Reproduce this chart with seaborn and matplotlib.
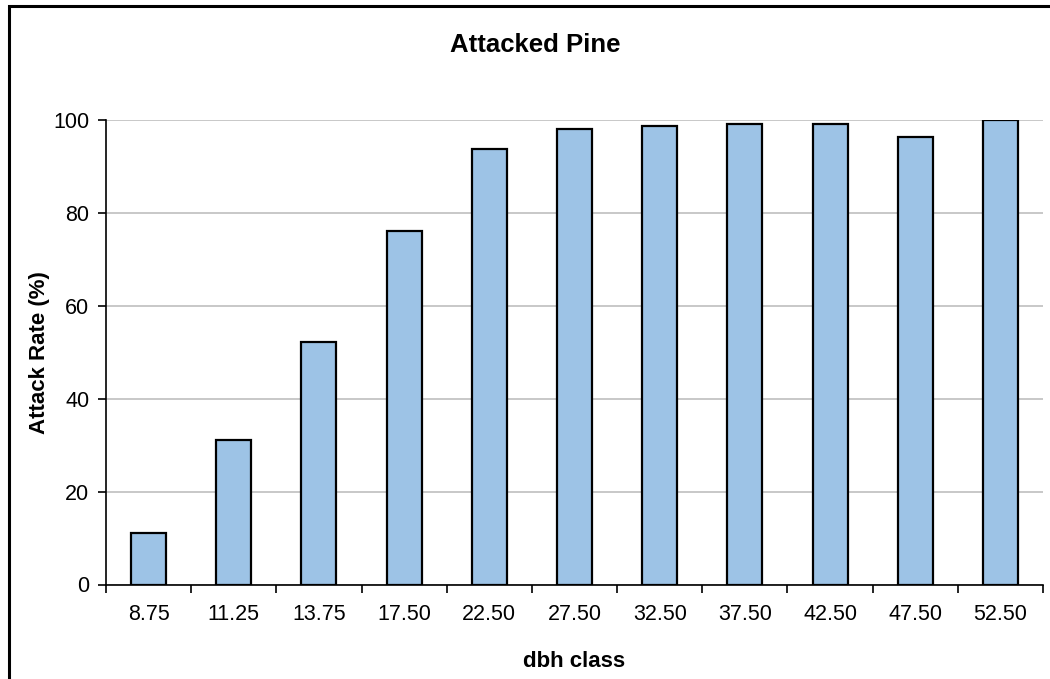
import matplotlib
matplotlib.use("Agg")
import matplotlib.pyplot as plt
import matplotlib.patches as mpatches
from matplotlib.ticker import MultipleLocator, FixedLocator
import seaborn as sns
import pandas as pd

dbh_class = ["8.75", "11.25", "13.75", "17.50", "22.50", "27.50",
             "32.50", "37.50", "42.50", "47.50", "52.50"]
attack_rate = [11.1, 31.1, 52.2, 76.2, 93.8, 98.2, 98.7, 99.1, 99.1, 96.5, 100.0]

df = pd.DataFrame({"dbh class": dbh_class, "Attack Rate (%)": attack_rate})

sns.set_style("white")
plt.rcParams["font.family"] = ["Liberation Sans", "DejaVu Sans"]
plt.rcParams["text.color"] = "black"
plt.rcParams["axes.labelcolor"] = "black"
plt.rcParams["xtick.color"] = "black"
plt.rcParams["ytick.color"] = "black"

fig = plt.figure(figsize=(10.5, 6.79), dpi=100)
ax = fig.add_axes([106 / 1050, 1 - 584.5 / 679, (1043 - 106) / 1050, (584.5 - 120.3) / 679])

sns.barplot(data=df, x="dbh class", y="Attack Rate (%)", order=dbh_class,
            color="#9DC3E6", saturation=1, width=0.41,
            edgecolor="black", linewidth=1.6, ax=ax, zorder=3)

ax.set_xlim(-0.5, len(dbh_class) - 0.5)
ax.set_ylim(0, 100)
ax.yaxis.set_major_locator(MultipleLocator(20))
ax.grid(axis="y", color="#BFBFBF", linewidth=1.2, zorder=0)
ax.set_axisbelow(True)

for s in ["top", "right"]:
    ax.spines[s].set_visible(False)
for s in ["left", "bottom"]:
    ax.spines[s].set_color("black")
    ax.spines[s].set_linewidth(1.2)

ax.tick_params(axis="y", which="major", left=True, length=6, width=1.2,
               color="black", labelcolor="black", labelsize=15.5, pad=6)
ax.tick_params(axis="x", which="major", bottom=False, length=0, labelsize=15.5,
               labelcolor="black", pad=14)
ax.xaxis.set_minor_locator(FixedLocator([i - 0.5 for i in range(len(dbh_class) + 1)]))
ax.tick_params(axis="x", which="minor", bottom=True, length=6, width=1.2, color="black")

ax.set_xlabel("dbh class", fontsize=16, fontweight="bold", labelpad=19, color="black")
ax.set_ylabel("Attack Rate (%)", fontsize=16, fontweight="bold", labelpad=2, color="black")

fig.text(535 / 1050, 1 - 45 / 679, "Attacked Pine", fontsize=18.5, fontweight="bold",
         ha="center", va="center", color="black")

border = mpatches.Rectangle((8.5 / 1050, -0.05), 1.1, 1 - 5.5 / 679 + 0.05,
                            transform=fig.transFigure, fill=False,
                            edgecolor="black", linewidth=2.2, clip_on=False)
fig.patches.append(border)

fig.savefig("out.png", dpi=100)
